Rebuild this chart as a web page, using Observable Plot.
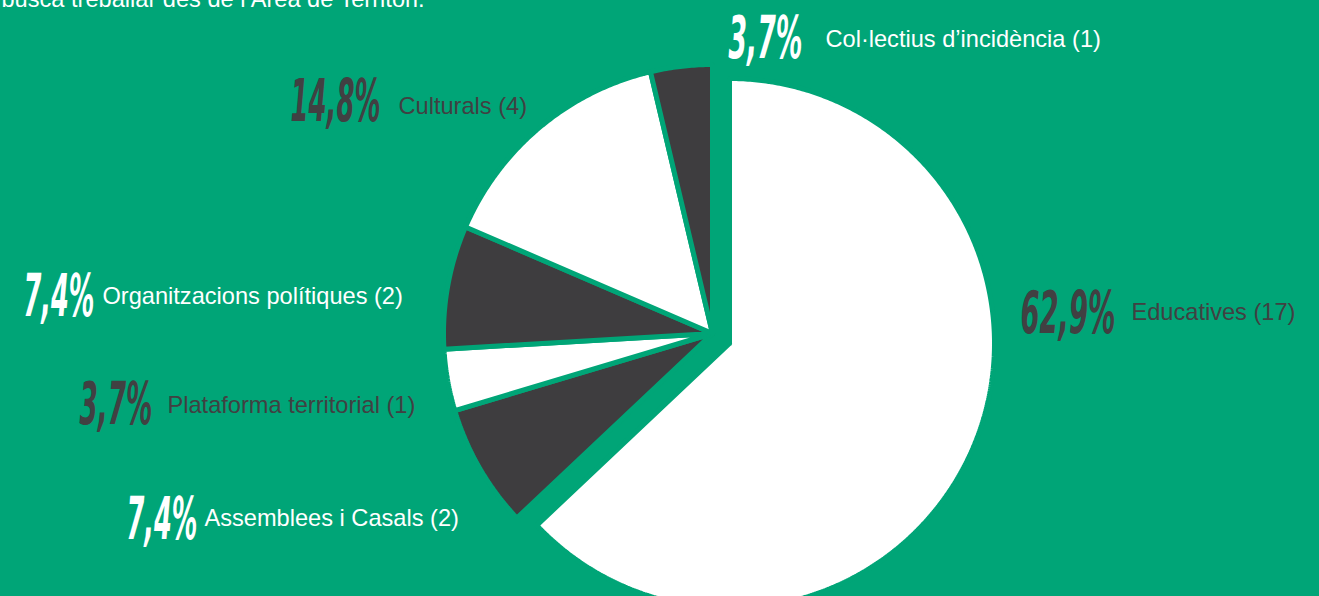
<!DOCTYPE html>
<html><head><meta charset="utf-8">
<script src="https://cdn.jsdelivr.net/npm/d3@7"></script>
<script src="https://cdn.jsdelivr.net/npm/@observablehq/plot@0.6"></script>
<style>
html,body{margin:0;padding:0;background:#00a577;overflow:hidden;}
#chart svg{display:block;}
</style></head><body><div id="chart"></div>
<script>
// ---- data ----
const categories = ["Educatives", "Assemblees i Casals", "Plataforma territorial", "Organitzacions polítiques", "Culturals", "Col·lectius d’incidència"];
const counts = [17, 2, 1, 2, 4, 1];
const percentLabels = ["62,9%", "7,4%", "3,7%", "7,4%", "14,8%", "3,7%"];
const subtitle = "busca treballar des de l’Àrea de Territori.";

// ---- styles / layout ----
const GREEN = "#00a577", DARK = "#3e3d3f", WHITE = "#ffffff", TEXT_DARK = "#414042";
const sliceFill = [WHITE, DARK, WHITE, DARK, WHITE, DARK];
const labelFill = [TEXT_DARK, WHITE, TEXT_DARK, WHITE, TEXT_DARK, WHITE];
const W = 1319, H = 596;
const center = [712, 333];
const radii = [265, 269, 269, 269, 269, 269];
const offsets = [[17, 10], [0, 0], [0, 0], [0, 0], [0, 0], [0, 0]];
const pctPos = [[1020, 332], [126, 538], [79, 423], [23, 315], [290, 120], [728, 57]];
const pctWidth = [95, 71, 73, 71, 90, 74];
const labelPos = [[1131, 319], [204, 525], [167, 412], [102, 303], [398, 113], [825, 46]];

const arcs = d3.pie().sort(null).value(d => d)(counts);
const slices = arcs.map((a, i) => {
  const cx = center[0] + offsets[i][0];
  const cy = center[1] + offsets[i][1];
  const r = radii[i];
  const pts = [{x: cx, y: cy}];
  const n = Math.max(2, Math.ceil((a.endAngle - a.startAngle) / (Math.PI / 360)));
  for (let k = 0; k <= n; k++) {
    const t = a.startAngle + (a.endAngle - a.startAngle) * k / n;
    pts.push({x: cx + r * Math.sin(t), y: cy - r * Math.cos(t)});
  }
  pts.push({x: cx, y: cy});
  return pts;
});

const rows = categories.map((c, i) => ({
  pct: percentLabels[i],
  label: `${c} (${counts[i]})`,
  px: pctPos[i][0], py: pctPos[i][1],
  lx: labelPos[i][0], ly: labelPos[i][1],
  color: labelFill[i]
}));

const plot = Plot.plot({
  width: W, height: H, margin: 0,
  x: {domain: [0, W], range: [0, W], axis: null},
  y: {domain: [0, H], range: [0, H], axis: null},
  color: {type: "identity"},
  style: {background: GREEN, overflow: "hidden"},
  marks: [
    ...slices.map((pts, i) => Plot.line(pts, {
      x: "x", y: "y", fill: sliceFill[i], stroke: GREEN, strokeWidth: 5,
      strokeLinejoin: "miter", strokeLinecap: "round", curve: "linear"
    })),
    Plot.text(rows, {
      x: "px", y: "py", text: "pct", fill: "color", textAnchor: "start", lineAnchor: "bottom",
      fontSize: 58, fontWeight: "bold", fontStyle: "italic",
      fontFamily: "'DejaVu Sans Condensed', 'Liberation Sans Narrow', 'DejaVu Sans', sans-serif"
    }),
    Plot.text(rows, {
      x: "lx", y: "ly", text: "label", fill: "color", textAnchor: "start", lineAnchor: "bottom",
      fontSize: 23.6, fontFamily: "'Liberation Sans', Arial, sans-serif"
    }),
    Plot.text([subtitle], {
      x: () => 1, y: () => 6, text: d => d, fill: WHITE, textAnchor: "start", lineAnchor: "bottom",
      fontSize: 23.6, fontFamily: "'Liberation Sans', Arial, sans-serif"
    })
  ]
});
document.getElementById("chart").append(plot);

// condense the percentage figures horizontally to the widths seen in the reference
const pctTexts = Array.from(plot.querySelectorAll("text")).filter(t => /%$/.test(t.textContent.trim()));
pctTexts.forEach((t, i) => {
  const natural = t.getComputedTextLength();
  const s = pctWidth[i] / natural;
  let tr = t.getAttribute("transform") || "";
  const xa = t.getAttribute("x"), ya = t.getAttribute("y");
  if (xa != null || ya != null) {
    tr += ` translate(${+xa || 0},${+ya || 0})`;
    t.removeAttribute("x"); t.removeAttribute("y");
  }
  t.setAttribute("transform", `${tr} scale(${s},1)`.trim());
});
</script></body></html>
